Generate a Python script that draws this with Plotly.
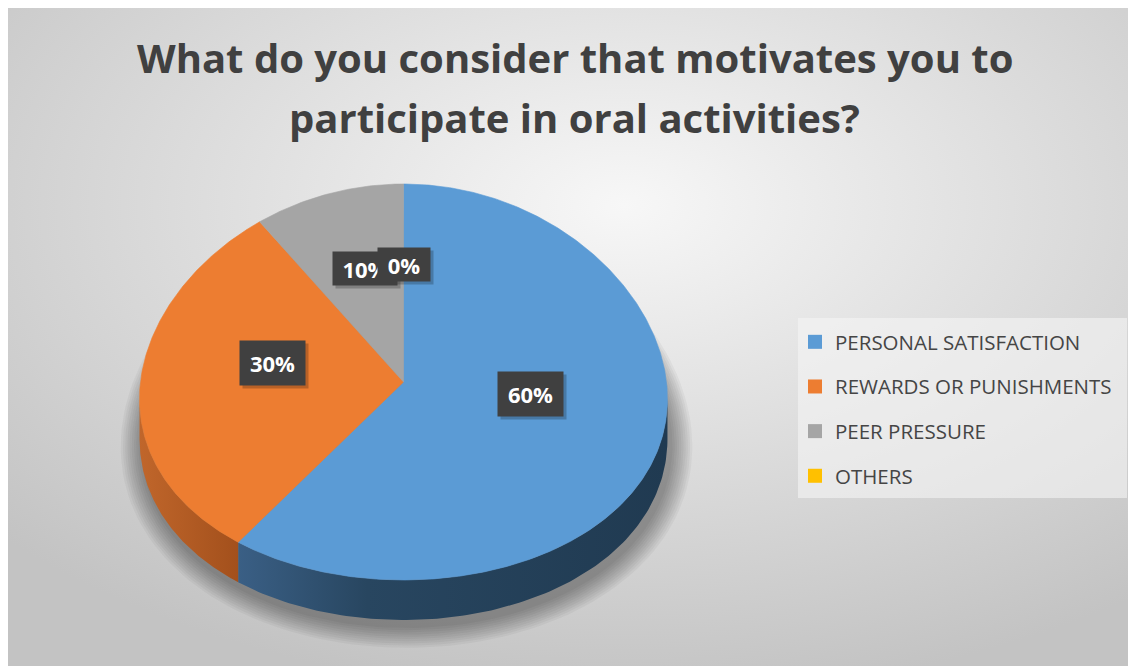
import base64
import numpy as np
import plotly.graph_objects as go

# ---- data -------------------------------------------------------------
categories = ["PERSONAL SATISFACTION", "REWARDS OR PUNISHMENTS", "PEER PRESSURE", "OTHERS"]
values = [60, 30, 10, 0]

title_lines = ["What do you consider that motivates you to", "participate in oral activities?"]

# ---- styling ------------------------------------------------------------
top_colors = ["#5b9bd5", "#ed7d31", "#a5a5a5", "#ffc000"]
side_scales = [
    [[0, "#3a5f85"], [0.3, "#284660"], [1, "#203a51"]],
    [[0, "#c0662b"], [1, "#a3501c"]],
    [[0, "#7c7c7c"], [1, "#5f5f5f"]],
    [[0, "#bf9000"], [1, "#9c7600"]],
]

W, H = 1131, 666
CX, CY = 403.5, 382.0      # centre of the top face (px)
RX, RY = 263.0, 198.0      # radii of the top face (px)
PERSP = 0.086              # foreshortening: near edge drawn wider
DEPTH = 40.0               # thickness of the disc (px)

LABEL_R = 0.5
LABEL_LIFT = 19
label_box_w = [63, 63, 62, 50]
label_box_h = [42, 42, 31, 31]

TITLE_CENTRES = [57, 117]  # vertical centres of the two title lines (px)


def proj(theta_deg, r=1.0):
    """Project a point on the disc (angle clockwise from 12 o'clock)."""
    t = np.radians(np.asarray(theta_deg, dtype=float))
    s, c = np.sin(t), np.cos(t)
    x = CX + RX * r * s * (1 - PERSP * c * r)
    y = CY - RY * r * c
    return x, y


total = float(sum(values))
bounds = np.concatenate([[0.0], np.cumsum(values) / total * 360.0])

# silhouette angles (left/right extremes of the projected rim)
probe = np.linspace(0, 360, 3601)
px, _ = proj(probe)
right_a = probe[np.argmax(px)]
left_a = probe[np.argmin(px)]

fig = go.Figure()

# soft drop shadow under the disc
for i in range(10):
    grow = 2 + i * 2.2
    t = np.linspace(0, 360, 181)
    sx, sy = proj(t)
    ex = CX + 3 + (sx - CX) * (RX + grow) / RX
    ey = CY + DEPTH + 6 + (sy - CY) * (RY + grow) / RY
    fig.add_trace(go.Scatter(x=ex, y=ey, mode="lines", fill="toself",
                             fillcolor="rgba(0,0,0,0.04)", line=dict(width=0),
                             hoverinfo="skip", showlegend=False))

# side walls (only the front half of the rim is visible)
for i, (a0, a1) in enumerate(zip(bounds[:-1], bounds[1:])):
    lo, hi = max(a0, right_a), min(a1, left_a)
    if hi <= lo:
        continue
    t = np.linspace(lo, hi, 120)
    x, y = proj(t)
    wx = np.concatenate([x, x[::-1]])
    wy = np.concatenate([y, (y + DEPTH)[::-1]])
    fig.add_trace(go.Scatter(
        x=wx, y=wy, mode="lines", fill="toself", line=dict(width=0),
        fillgradient=dict(type="horizontal", colorscale=side_scales[i]),
        hoverinfo="skip", showlegend=False))

# top faces of the slices
for i, (a0, a1) in enumerate(zip(bounds[:-1], bounds[1:])):
    if a1 - a0 <= 0:
        continue
    t = np.linspace(a0, a1, max(int((a1 - a0) * 2), 4))
    x, y = proj(t)
    fx = np.concatenate([[CX], x, [CX]])
    fy = np.concatenate([[CY], y, [CY]])
    fig.add_trace(go.Scatter(x=fx, y=fy, mode="lines", fill="toself",
                             fillcolor=top_colors[i], line=dict(width=0.6, color=top_colors[i]),
                             name=categories[i], hoverinfo="name", showlegend=False))

# legend entries
for name, col in zip(categories, top_colors):
    fig.add_trace(go.Scatter(x=[None], y=[None], mode="markers", name=name,
                             legendgroup=name,
                             marker=dict(symbol="square", size=14, color=col)))

# data labels
annotations = []
shadows = []
for i, (a0, a1) in enumerate(zip(bounds[:-1], bounds[1:])):
    mid = (a0 + a1) / 2.0
    lx, ly = proj(mid, LABEL_R)
    ly = float(ly) - LABEL_LIFT
    pct = round(values[i] / total * 100)
    common = dict(x=float(lx), y=ly, xref="x", yref="y", showarrow=False,
                  width=label_box_w[i], height=label_box_h[i],
                  xanchor="center", yanchor="middle")
    shadows.append(dict(common, x=float(lx) + 3, y=ly + 3, text=" ",
                        bgcolor="rgba(0,0,0,0.22)"))
    annotations.append(dict(common, text=f"<b>{pct}%</b>", bgcolor="#404040",
                            font=dict(family="Open Sans", size=22, color="white")))

# chart title, one annotation per line
title_anns = [
    dict(text=f"<b>{line}</b>", x=574.5, y=yc, xref="x", yref="y",
         xanchor="center", yanchor="middle", showarrow=False,
         font=dict(family="Open Sans", size=40, color="#404040"))
    for line, yc in zip(title_lines, TITLE_CENTRES)
]

# background gradient of the chart area
svg = (
    '<svg xmlns="http://www.w3.org/2000/svg" width="1120" height="658">'
    '<defs><radialGradient id="g" cx="0.55" cy="0.3" r="0.75">'
    '<stop offset="0" stop-color="#f7f7f7"/><stop offset="1" stop-color="#c3c3c3"/>'
    '</radialGradient></defs><rect width="100%" height="100%" fill="url(#g)"/></svg>'
)
bg_uri = "data:image/svg+xml;base64," + base64.b64encode(svg.encode()).decode()

fig.update_layout(
    width=W, height=H,
    margin=dict(l=0, r=0, t=0, b=0),
    paper_bgcolor="white", plot_bgcolor="rgba(0,0,0,0)",
    xaxis=dict(range=[0, W], visible=False, fixedrange=True),
    yaxis=dict(range=[H, 0], visible=False, fixedrange=True),
    legend=dict(x=795 / W, y=1 - 322 / H, xanchor="left", yanchor="top",
                bgcolor="rgba(0,0,0,0)", tracegroupgap=15,
                font=dict(family="Open Sans", size=20.5, color="#454545")),
    images=[dict(source=bg_uri, xref="paper", yref="paper", x=8 / W, y=1 - 8 / H,
                 sizex=1120 / W, sizey=658 / H, xanchor="left", yanchor="top",
                 sizing="stretch", layer="below")],
    shapes=[dict(type="rect", xref="x", yref="y", x0=798, x1=1127, y0=318, y1=498,
                 fillcolor="rgba(245,245,245,0.6)", line=dict(width=0), layer="below")],
    annotations=title_anns + shadows + annotations,
    showlegend=True,
)

fig.write_html("out.html")
